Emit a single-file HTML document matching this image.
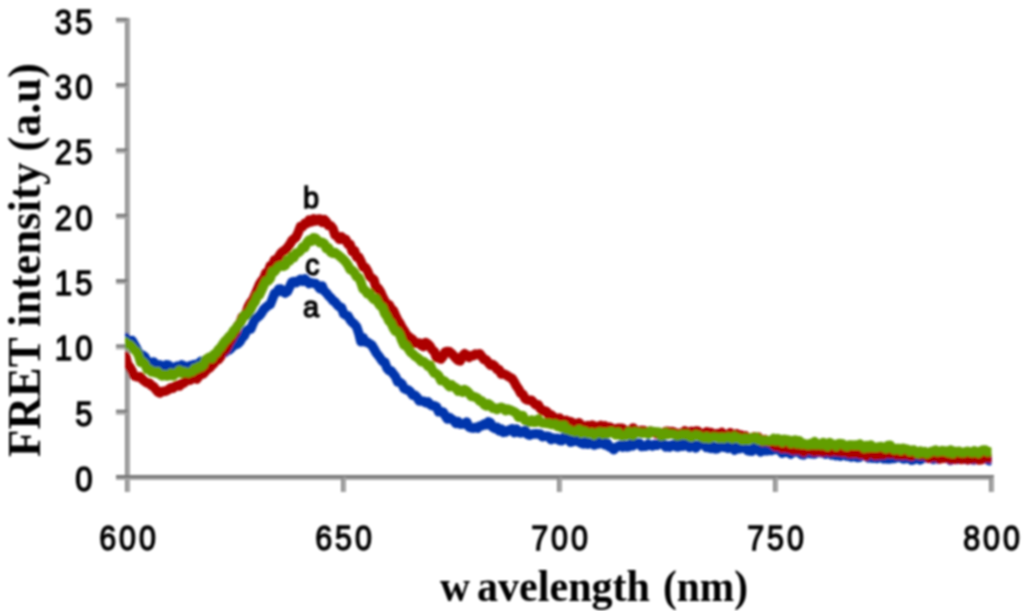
<!DOCTYPE html>
<html><head><meta charset="utf-8"><style>
html,body{margin:0;padding:0;background:#fff;width:1024px;height:616px;overflow:hidden}
svg{position:absolute;left:0;top:0}
.lab{font-family:"Liberation Sans",sans-serif;font-size:35px;fill:#000;stroke:#000;stroke-width:1.4px}
.tit{font-family:"Liberation Serif",serif;font-weight:bold;fill:#000}
.let{font-family:"Liberation Sans",sans-serif;font-size:29px;fill:#000;stroke:#000;stroke-width:1.3px}
</style></head><body>
<svg width="1024" height="616" viewBox="0 0 1024 616">
<defs><clipPath id="pc"><rect x="125" y="0" width="866.5" height="616"/></clipPath><filter id="bl" x="0" y="0" width="1" height="1"><feGaussianBlur stdDeviation="0.9"/></filter></defs>
<g filter="url(#bl)">
<rect x="125.0" y="18" width="2.5" height="474" fill="#8a8a8a"/>
<rect x="127.5" y="18" width="2.5" height="474" fill="#a2a2a2"/>
<rect x="116" y="475.0" width="878" height="3" fill="#787878"/>
<rect x="116" y="478.0" width="878" height="2" fill="#a8a8a8"/>
<rect x="116" y="409.7" width="11.5" height="3" fill="#787878"/>
<rect x="116" y="412.7" width="11.5" height="2" fill="#a8a8a8"/>
<rect x="116" y="344.4" width="11.5" height="3" fill="#787878"/>
<rect x="116" y="347.4" width="11.5" height="2" fill="#a8a8a8"/>
<rect x="116" y="279.1" width="11.5" height="3" fill="#787878"/>
<rect x="116" y="282.1" width="11.5" height="2" fill="#a8a8a8"/>
<rect x="116" y="213.8" width="11.5" height="3" fill="#787878"/>
<rect x="116" y="216.8" width="11.5" height="2" fill="#a8a8a8"/>
<rect x="116" y="148.4" width="11.5" height="3" fill="#787878"/>
<rect x="116" y="151.4" width="11.5" height="2" fill="#a8a8a8"/>
<rect x="116" y="83.1" width="11.5" height="3" fill="#787878"/>
<rect x="116" y="86.1" width="11.5" height="2" fill="#a8a8a8"/>
<rect x="116" y="17.8" width="11.5" height="3" fill="#787878"/>
<rect x="116" y="20.8" width="11.5" height="2" fill="#a8a8a8"/>
<rect x="341.0" y="477" width="2.5" height="15" fill="#8a8a8a"/>
<rect x="343.5" y="477" width="2.5" height="15" fill="#a2a2a2"/>
<rect x="557.0" y="477" width="2.5" height="15" fill="#8a8a8a"/>
<rect x="559.5" y="477" width="2.5" height="15" fill="#a2a2a2"/>
<rect x="773.0" y="477" width="2.5" height="15" fill="#8a8a8a"/>
<rect x="775.5" y="477" width="2.5" height="15" fill="#a2a2a2"/>
<rect x="989.0" y="477" width="2.5" height="15" fill="#8a8a8a"/>
<rect x="991.5" y="477" width="2.5" height="15" fill="#a2a2a2"/>
<text transform="translate(95.5,491.0) scale(0.89,1.0)" text-anchor="end" class="lab" letter-spacing="3.4">0</text>
<text transform="translate(95.5,425.7) scale(0.89,1.0)" text-anchor="end" class="lab" letter-spacing="3.4">5</text>
<text transform="translate(95.5,360.4) scale(0.89,1.0)" text-anchor="end" class="lab" letter-spacing="3.4">10</text>
<text transform="translate(95.5,295.1) scale(0.89,1.0)" text-anchor="end" class="lab" letter-spacing="3.4">15</text>
<text transform="translate(95.5,229.8) scale(0.89,1.0)" text-anchor="end" class="lab" letter-spacing="3.4">20</text>
<text transform="translate(95.5,164.4) scale(0.89,1.0)" text-anchor="end" class="lab" letter-spacing="3.4">25</text>
<text transform="translate(95.5,99.1) scale(0.89,1.0)" text-anchor="end" class="lab" letter-spacing="3.4">30</text>
<text transform="translate(95.5,33.8) scale(0.89,1.0)" text-anchor="end" class="lab" letter-spacing="3.4">35</text>
<text transform="translate(129.0,550.2) scale(0.87,1.0)" text-anchor="middle" class="lab" letter-spacing="3.4">600</text>
<text transform="translate(345.0,550.2) scale(0.87,1.0)" text-anchor="middle" class="lab" letter-spacing="3.4">650</text>
<text transform="translate(561.0,550.2) scale(0.87,1.0)" text-anchor="middle" class="lab" letter-spacing="3.4">700</text>
<text transform="translate(777.0,550.2) scale(0.87,1.0)" text-anchor="middle" class="lab" letter-spacing="3.4">750</text>
<text transform="translate(993.0,550.2) scale(0.87,1.0)" text-anchor="middle" class="lab" letter-spacing="3.4">800</text>
<polyline points="125.5,337.4 127.7,341.4 129.8,341.9 132.0,340.5 134.1,344.1 136.3,347.9 138.5,352.8 140.6,356.8 142.8,355.4 144.9,356.9 147.1,362.2 149.3,362.1 151.4,364.6 153.6,361.9 155.7,364.5 157.9,366.3 160.1,364.8 162.2,368.2 164.4,368.3 166.5,364.8 168.7,365.1 170.9,367.9 173.0,369.8 175.2,367.1 177.3,366.1 179.5,366.7 181.7,364.9 183.8,365.8 186.0,366.7 188.1,367.0 190.3,365.7 192.5,365.1 194.6,364.4 196.8,364.8 198.9,363.4 201.1,361.3 203.3,363.9 205.4,361.5 207.6,360.8 209.7,357.7 211.9,360.2 214.1,358.6 216.2,354.2 218.4,354.0 220.5,354.4 222.7,353.0 224.9,352.6 227.0,349.1 229.2,349.9 231.3,348.1 233.5,345.4 235.7,344.7 237.8,343.9 240.0,341.5 242.1,337.9 244.3,335.8 246.5,330.9 248.6,329.4 250.8,329.0 252.9,323.8 255.1,319.1 257.3,317.6 259.4,315.7 261.6,313.0 263.7,309.3 265.9,307.4 268.1,305.5 270.2,304.5 272.4,298.9 274.5,293.5 276.7,292.3 278.9,288.9 281.0,289.0 283.2,291.9 285.3,293.1 287.5,291.4 289.7,286.8 291.8,282.1 294.0,281.5 296.1,282.7 298.3,280.9 300.5,279.3 302.6,281.2 304.8,279.0 306.9,280.8 309.1,283.6 311.3,282.8 313.4,283.2 315.6,283.5 317.7,285.7 319.9,288.7 322.1,286.0 324.2,291.0 326.4,292.9 328.5,295.7 330.7,297.7 332.9,300.6 335.0,301.9 337.2,304.7 339.3,306.7 341.5,307.6 343.7,313.8 345.8,315.1 348.0,316.0 350.1,319.8 352.3,322.3 354.5,324.2 356.6,326.7 358.8,333.2 360.9,341.7 363.1,337.7 365.3,342.1 367.4,342.3 369.6,343.7 371.7,345.0 373.9,348.7 376.1,352.6 378.2,355.3 380.4,358.3 382.5,361.4 384.7,362.0 386.9,367.9 389.0,370.5 391.2,371.0 393.3,373.9 395.5,376.5 397.7,382.1 399.8,382.2 402.0,383.9 404.1,388.5 406.3,389.6 408.5,390.2 410.6,392.1 412.8,395.3 414.9,395.3 417.1,397.4 419.3,400.9 421.4,400.9 423.6,401.2 425.7,402.8 427.9,401.8 430.1,404.4 432.2,405.7 434.4,405.7 436.5,406.7 438.7,411.8 440.9,411.7 443.0,411.9 445.2,415.7 447.3,418.8 449.5,417.5 451.7,419.3 453.8,420.4 456.0,423.5 458.1,421.6 460.3,424.2 462.5,424.1 464.6,423.5 466.8,422.1 468.9,427.0 471.1,427.8 473.3,428.2 475.4,427.3 477.6,428.2 479.7,426.0 481.9,425.7 484.1,424.0 486.2,424.8 488.4,421.8 490.5,422.8 492.7,427.3 494.9,428.4 497.0,427.4 499.2,430.9 501.3,429.0 503.5,432.4 505.7,432.1 507.8,430.6 510.0,429.9 512.1,428.8 514.3,432.7 516.5,429.0 518.6,432.4 520.8,433.0 522.9,431.7 525.1,430.5 527.3,434.2 529.4,435.2 531.6,434.4 533.7,433.9 535.9,433.8 538.1,434.0 540.2,433.9 542.4,436.7 544.5,436.4 546.7,436.1 548.9,436.5 551.0,439.7 553.2,438.1 555.3,439.0 557.5,438.2 559.7,440.6 561.8,440.8 564.0,437.1 566.1,438.2 568.3,439.1 570.5,442.3 572.6,441.7 574.8,440.0 576.9,439.8 579.1,442.1 581.3,443.2 583.4,443.9 585.6,441.6 587.7,444.1 589.9,443.4 592.1,442.7 594.2,445.1 596.4,441.8 598.5,444.0 600.7,441.2 602.9,441.5 605.0,445.0 607.2,443.2 609.3,446.9 611.5,447.4 613.7,449.8 615.8,447.5 618.0,446.5 620.1,445.4 622.3,447.0 624.5,445.2 626.6,446.9 628.8,446.8 630.9,443.7 633.1,445.7 635.3,443.7 637.4,443.3 639.6,443.3 641.7,446.6 643.9,446.2 646.1,446.2 648.2,444.0 650.4,445.3 652.5,446.1 654.7,444.4 656.9,445.3 659.0,443.8 661.2,443.2 663.3,444.1 665.5,446.9 667.7,445.5 669.8,447.1 672.0,445.1 674.1,444.4 676.3,446.7 678.5,446.9 680.6,443.4 682.8,446.3 684.9,443.8 687.1,444.0 689.3,447.4 691.4,443.8 693.6,444.7 695.7,448.0 697.9,445.6 700.1,444.3 702.2,444.7 704.4,445.1 706.5,447.5 708.7,444.8 710.9,448.5 713.0,446.2 715.2,449.0 717.3,448.8 719.5,446.3 721.7,446.2 723.8,447.3 726.0,445.8 728.1,448.4 730.3,445.8 732.5,445.8 734.6,450.2 736.8,447.3 738.9,448.8 741.1,448.2 743.3,447.8 745.4,446.8 747.6,450.7 749.7,451.1 751.9,451.2 754.1,447.6 756.2,448.2 758.4,450.1 760.5,451.8 762.7,450.0 764.9,450.8 767.0,450.8 769.2,449.2 771.3,450.6 773.5,449.7 775.7,449.6 777.8,449.0 780.0,450.0 782.1,453.3 784.3,451.2 786.5,452.3 788.6,452.5 790.8,454.0 792.9,451.8 795.1,451.7 797.3,452.0 799.4,452.1 801.6,454.6 803.7,454.9 805.9,452.4 808.1,452.6 810.2,453.6 812.4,453.8 814.5,454.0 816.7,452.5 818.9,451.6 821.0,452.7 823.2,452.0 825.3,454.2 827.5,452.2 829.7,452.3 831.8,454.9 834.0,453.4 836.1,455.7 838.3,454.5 840.5,456.2 842.6,453.2 844.8,454.8 846.9,456.2 849.1,453.1 851.3,457.1 853.4,453.8 855.6,456.6 857.7,457.6 859.9,457.1 862.1,455.0 864.2,454.2 866.4,456.2 868.5,458.1 870.7,455.5 872.9,458.3 875.0,455.1 877.2,458.6 879.3,454.9 881.5,456.3 883.7,458.9 885.8,458.6 888.0,459.1 890.1,458.9 892.3,458.6 894.5,458.4 896.6,456.2 898.8,457.5 900.9,456.3 903.1,458.9 905.3,458.7 907.4,457.0 909.6,456.2 911.7,460.2 913.9,459.6 916.1,458.5 918.2,458.5 920.4,459.9 922.5,458.2 924.7,458.0 926.9,457.8 929.0,457.5 931.2,456.5 933.3,459.3 935.5,458.3 937.7,459.0 939.8,456.8 942.0,458.2 944.1,457.3 946.3,457.3 948.5,457.9 950.6,460.4 952.8,458.6 954.9,458.6 957.1,459.5 959.3,457.8 961.4,456.8 963.6,459.1 965.7,459.0 967.9,459.7 970.1,458.7 972.2,459.8 974.4,460.0 976.5,457.8 978.7,459.0 980.9,458.9 983.0,457.8 985.2,458.6 987.3,459.3 989.5,460.8" fill="none" stroke="#0036AC" stroke-width="9.5" stroke-linejoin="round" stroke-linecap="round" clip-path="url(#pc)"/>
<polyline points="125.5,356.0 127.7,364.6 129.8,366.9 132.0,370.9 134.1,375.8 136.3,376.6 138.5,377.1 140.6,376.7 142.8,379.7 144.9,381.4 147.1,383.0 149.3,382.9 151.4,385.5 153.6,386.7 155.7,389.4 157.9,391.9 160.1,393.0 162.2,391.5 164.4,391.3 166.5,390.8 168.7,389.4 170.9,387.8 173.0,388.2 175.2,386.2 177.3,385.1 179.5,386.0 181.7,383.6 183.8,383.1 186.0,381.0 188.1,379.5 190.3,380.1 192.5,377.9 194.6,378.3 196.8,379.1 198.9,376.4 201.1,372.6 203.3,373.8 205.4,371.4 207.6,369.2 209.7,368.0 211.9,365.3 214.1,363.2 216.2,359.1 218.4,359.6 220.5,356.9 222.7,350.6 224.9,350.5 227.0,347.2 229.2,342.4 231.3,339.0 233.5,334.9 235.7,332.1 237.8,325.6 240.0,322.8 242.1,317.0 244.3,315.6 246.5,311.9 248.6,305.9 250.8,302.3 252.9,299.7 255.1,294.8 257.3,289.7 259.4,284.5 261.6,280.9 263.7,278.6 265.9,272.7 268.1,272.4 270.2,265.9 272.4,265.3 274.5,260.0 276.7,260.1 278.9,256.3 281.0,253.1 283.2,251.2 285.3,249.9 287.5,247.6 289.7,244.5 291.8,240.8 294.0,238.7 296.1,237.1 298.3,232.3 300.5,226.5 302.6,226.7 304.8,223.3 306.9,223.5 309.1,220.0 311.3,222.0 313.4,218.8 315.6,221.1 317.7,219.2 319.9,219.0 322.1,222.4 324.2,219.6 326.4,221.9 328.5,225.6 330.7,225.8 332.9,228.5 335.0,234.9 337.2,236.3 339.3,239.3 341.5,236.8 343.7,239.2 345.8,239.5 348.0,244.2 350.1,244.4 352.3,251.5 354.5,250.6 356.6,256.9 358.8,257.1 360.9,261.3 363.1,267.0 365.3,267.4 367.4,270.7 369.6,276.2 371.7,278.1 373.9,279.8 376.1,288.0 378.2,288.3 380.4,291.8 382.5,296.5 384.7,300.7 386.9,304.3 389.0,304.6 391.2,308.7 393.3,310.4 395.5,315.5 397.7,320.1 399.8,323.2 402.0,327.5 404.1,330.5 406.3,334.3 408.5,336.4 410.6,338.1 412.8,339.7 414.9,343.2 417.1,342.8 419.3,342.9 421.4,345.4 423.6,346.5 425.7,342.5 427.9,343.9 430.1,346.3 432.2,350.0 434.4,351.6 436.5,357.7 438.7,356.1 440.9,359.1 443.0,356.5 445.2,351.9 447.3,351.5 449.5,351.8 451.7,353.7 453.8,355.8 456.0,358.5 458.1,360.3 460.3,360.9 462.5,356.0 464.6,353.7 466.8,355.1 468.9,357.4 471.1,355.7 473.3,355.7 475.4,354.0 477.6,354.6 479.7,353.8 481.9,356.6 484.1,359.6 486.2,359.9 488.4,362.8 490.5,365.3 492.7,364.6 494.9,366.3 497.0,369.5 499.2,369.8 501.3,374.1 503.5,373.7 505.7,374.7 507.8,376.2 510.0,377.5 512.1,378.5 514.3,382.1 516.5,386.2 518.6,389.0 520.8,393.3 522.9,394.3 525.1,398.7 527.3,400.1 529.4,400.2 531.6,400.3 533.7,402.7 535.9,405.0 538.1,404.7 540.2,408.4 542.4,410.9 544.5,410.8 546.7,411.5 548.9,415.7 551.0,414.9 553.2,416.5 555.3,419.1 557.5,418.6 559.7,418.1 561.8,422.3 564.0,420.7 566.1,420.3 568.3,423.9 570.5,421.6 572.6,422.7 574.8,425.3 576.9,424.8 579.1,422.7 581.3,425.4 583.4,426.0 585.6,426.9 587.7,425.7 589.9,427.4 592.1,425.1 594.2,426.1 596.4,426.4 598.5,429.0 600.7,425.3 602.9,428.4 605.0,426.0 607.2,427.7 609.3,427.0 611.5,427.9 613.7,429.9 615.8,429.0 618.0,428.3 620.1,428.3 622.3,428.2 624.5,431.5 626.6,430.6 628.8,432.0 630.9,430.8 633.1,427.9 635.3,430.7 637.4,431.2 639.6,431.0 641.7,430.4 643.9,430.4 646.1,431.5 648.2,433.3 650.4,431.0 652.5,432.2 654.7,432.0 656.9,434.2 659.0,433.6 661.2,434.2 663.3,433.8 665.5,431.5 667.7,431.2 669.8,432.4 672.0,431.4 674.1,432.2 676.3,433.3 678.5,434.4 680.6,433.0 682.8,434.1 684.9,430.9 687.1,432.1 689.3,435.0 691.4,431.3 693.6,432.5 695.7,431.0 697.9,431.1 700.1,434.7 702.2,435.3 704.4,433.9 706.5,431.7 708.7,432.5 710.9,432.4 713.0,434.4 715.2,434.6 717.3,433.6 719.5,434.1 721.7,432.4 723.8,434.4 726.0,436.3 728.1,435.5 730.3,432.7 732.5,434.7 734.6,435.7 736.8,433.8 738.9,436.7 741.1,435.1 743.3,436.7 745.4,435.9 747.6,439.0 749.7,438.6 751.9,438.2 754.1,436.8 756.2,438.6 758.4,437.3 760.5,440.3 762.7,442.1 764.9,439.6 767.0,441.7 769.2,442.3 771.3,442.7 773.5,444.8 775.7,446.5 777.8,446.2 780.0,445.9 782.1,448.5 784.3,446.1 786.5,448.4 788.6,448.4 790.8,449.3 792.9,450.1 795.1,447.8 797.3,450.0 799.4,449.5 801.6,450.7 803.7,452.1 805.9,450.6 808.1,447.9 810.2,449.8 812.4,450.9 814.5,451.7 816.7,450.7 818.9,451.4 821.0,447.9 823.2,452.0 825.3,451.0 827.5,450.5 829.7,451.8 831.8,451.7 834.0,448.2 836.1,451.6 838.3,451.7 840.5,449.6 842.6,452.3 844.8,451.9 846.9,450.6 849.1,453.6 851.3,451.0 853.4,453.4 855.6,453.0 857.7,452.6 859.9,454.3 862.1,453.9 864.2,452.7 866.4,456.1 868.5,452.1 870.7,451.8 872.9,453.9 875.0,455.5 877.2,454.7 879.3,455.1 881.5,453.9 883.7,454.8 885.8,453.3 888.0,453.0 890.1,454.0 892.3,451.9 894.5,452.2 896.6,455.1 898.8,452.6 900.9,455.1 903.1,455.3 905.3,453.6 907.4,455.0 909.6,455.7 911.7,456.3 913.9,453.3 916.1,453.6 918.2,454.8 920.4,455.4 922.5,454.9 924.7,453.8 926.9,456.4 929.0,458.5 931.2,456.0 933.3,457.0 935.5,456.5 937.7,457.0 939.8,459.1 942.0,456.7 944.1,458.3 946.3,457.6 948.5,457.9 950.6,459.6 952.8,456.0 954.9,459.4 957.1,457.1 959.3,458.7 961.4,459.4 963.6,458.8 965.7,457.8 967.9,459.8 970.1,456.6 972.2,459.0 974.4,458.0 976.5,458.6 978.7,460.0 980.9,459.8 983.0,459.1 985.2,457.7 987.3,457.3 989.5,458.3" fill="none" stroke="#AC0000" stroke-width="9.5" stroke-linejoin="round" stroke-linecap="round" clip-path="url(#pc)"/>
<polyline points="125.5,341.8 127.7,344.3 129.8,344.7 132.0,346.9 134.1,349.7 136.3,351.2 138.5,355.0 140.6,362.1 142.8,361.7 144.9,363.8 147.1,369.3 149.3,369.1 151.4,372.0 153.6,371.3 155.7,372.9 157.9,371.6 160.1,374.6 162.2,375.9 164.4,374.6 166.5,375.9 168.7,375.8 170.9,373.1 173.0,375.8 175.2,374.2 177.3,372.1 179.5,370.1 181.7,373.4 183.8,371.5 186.0,372.4 188.1,372.9 190.3,371.8 192.5,371.6 194.6,368.2 196.8,368.9 198.9,366.3 201.1,367.0 203.3,365.1 205.4,359.9 207.6,358.3 209.7,357.0 211.9,358.4 214.1,354.2 216.2,353.1 218.4,349.6 220.5,347.7 222.7,344.3 224.9,341.2 227.0,339.4 229.2,336.4 231.3,334.7 233.5,330.7 235.7,328.7 237.8,325.5 240.0,323.6 242.1,319.7 244.3,315.0 246.5,315.4 248.6,312.6 250.8,309.2 252.9,304.5 255.1,301.7 257.3,295.9 259.4,295.0 261.6,290.3 263.7,285.5 265.9,281.0 268.1,281.0 270.2,278.5 272.4,271.6 274.5,271.7 276.7,268.7 278.9,266.2 281.0,265.5 283.2,266.3 285.3,265.4 287.5,260.0 289.7,260.9 291.8,256.7 294.0,257.4 296.1,253.0 298.3,252.8 300.5,250.8 302.6,247.0 304.8,247.5 306.9,242.8 309.1,240.1 311.3,241.3 313.4,237.7 315.6,238.1 317.7,240.4 319.9,242.8 322.1,242.3 324.2,243.4 326.4,248.7 328.5,247.8 330.7,252.2 332.9,253.3 335.0,252.5 337.2,254.2 339.3,255.9 341.5,257.8 343.7,259.8 345.8,262.1 348.0,265.2 350.1,269.5 352.3,270.4 354.5,272.8 356.6,276.7 358.8,277.6 360.9,282.2 363.1,289.1 365.3,290.3 367.4,293.7 369.6,293.2 371.7,296.8 373.9,299.3 376.1,298.6 378.2,302.9 380.4,306.0 382.5,307.2 384.7,313.4 386.9,316.4 389.0,321.1 391.2,323.1 393.3,327.9 395.5,331.3 397.7,331.4 399.8,334.8 402.0,340.8 404.1,345.4 406.3,345.4 408.5,349.0 410.6,352.3 412.8,353.8 414.9,356.0 417.1,357.4 419.3,359.2 421.4,361.8 423.6,361.6 425.7,363.2 427.9,366.1 430.1,365.2 432.2,370.0 434.4,373.2 436.5,373.7 438.7,375.7 440.9,380.6 443.0,380.4 445.2,381.7 447.3,384.0 449.5,386.5 451.7,385.0 453.8,387.0 456.0,387.9 458.1,391.1 460.3,390.0 462.5,392.3 464.6,389.7 466.8,390.9 468.9,392.9 471.1,396.2 473.3,396.5 475.4,397.3 477.6,398.1 479.7,401.2 481.9,400.9 484.1,404.6 486.2,405.8 488.4,403.9 490.5,405.2 492.7,408.2 494.9,408.1 497.0,409.5 499.2,408.0 501.3,407.3 503.5,408.3 505.7,410.8 507.8,409.1 510.0,410.0 512.1,410.9 514.3,411.8 516.5,413.4 518.6,417.3 520.8,415.5 522.9,415.8 525.1,420.6 527.3,421.1 529.4,422.2 531.6,420.0 533.7,422.3 535.9,422.2 538.1,419.1 540.2,421.6 542.4,422.9 544.5,423.1 546.7,423.4 548.9,423.3 551.0,424.5 553.2,424.3 555.3,423.9 557.5,426.5 559.7,425.5 561.8,428.1 564.0,425.2 566.1,429.5 568.3,429.2 570.5,430.8 572.6,431.2 574.8,431.9 576.9,431.2 579.1,429.4 581.3,433.3 583.4,431.1 585.6,431.8 587.7,433.6 589.9,433.1 592.1,432.7 594.2,435.2 596.4,433.7 598.5,432.4 600.7,431.9 602.9,434.4 605.0,432.6 607.2,433.8 609.3,432.0 611.5,431.6 613.7,433.3 615.8,434.8 618.0,432.2 620.1,435.2 622.3,435.9 624.5,435.3 626.6,435.4 628.8,431.8 630.9,434.6 633.1,435.6 635.3,431.9 637.4,432.7 639.6,432.6 641.7,433.5 643.9,432.9 646.1,433.0 648.2,434.3 650.4,431.1 652.5,431.5 654.7,431.9 656.9,432.1 659.0,432.0 661.2,436.2 663.3,435.8 665.5,432.6 667.7,434.6 669.8,433.9 672.0,434.1 674.1,434.4 676.3,435.9 678.5,435.8 680.6,434.9 682.8,434.3 684.9,435.1 687.1,434.4 689.3,436.4 691.4,437.3 693.6,436.0 695.7,434.8 697.9,435.4 700.1,436.4 702.2,437.5 704.4,438.4 706.5,436.7 708.7,438.6 710.9,437.9 713.0,437.1 715.2,436.9 717.3,437.6 719.5,438.5 721.7,437.4 723.8,438.6 726.0,437.7 728.1,436.8 730.3,438.2 732.5,438.9 734.6,436.3 736.8,437.9 738.9,438.0 741.1,440.0 743.3,440.4 745.4,438.0 747.6,440.3 749.7,439.9 751.9,437.7 754.1,438.6 756.2,437.2 758.4,440.3 760.5,439.8 762.7,441.0 764.9,440.8 767.0,440.4 769.2,440.9 771.3,440.4 773.5,438.6 775.7,441.0 777.8,438.6 780.0,439.4 782.1,442.4 784.3,439.3 786.5,439.7 788.6,439.9 790.8,443.5 792.9,440.6 795.1,440.0 797.3,443.8 799.4,440.8 801.6,444.1 803.7,443.5 805.9,444.4 808.1,445.1 810.2,443.6 812.4,444.7 814.5,441.6 816.7,444.9 818.9,444.0 821.0,445.0 823.2,442.4 825.3,445.4 827.5,446.3 829.7,442.6 831.8,443.8 834.0,445.0 836.1,446.3 838.3,443.8 840.5,443.6 842.6,444.0 844.8,445.7 846.9,446.5 849.1,445.0 851.3,445.0 853.4,445.2 855.6,445.1 857.7,445.5 859.9,444.2 862.1,446.1 864.2,448.2 866.4,445.8 868.5,447.4 870.7,444.9 872.9,447.3 875.0,447.6 877.2,447.3 879.3,446.7 881.5,446.6 883.7,447.4 885.8,448.6 888.0,445.4 890.1,445.2 892.3,448.6 894.5,449.7 896.6,448.4 898.8,448.5 900.9,450.2 903.1,448.2 905.3,449.0 907.4,449.2 909.6,451.3 911.7,450.3 913.9,450.1 916.1,452.3 918.2,453.6 920.4,450.9 922.5,452.8 924.7,451.7 926.9,453.8 929.0,452.8 931.2,451.4 933.3,451.1 935.5,450.1 937.7,452.0 939.8,451.5 942.0,450.5 944.1,451.2 946.3,450.9 948.5,452.8 950.6,449.9 952.8,453.6 954.9,451.3 957.1,451.8 959.3,451.2 961.4,452.8 963.6,452.7 965.7,451.6 967.9,451.2 970.1,452.2 972.2,452.8 974.4,450.8 976.5,452.2 978.7,453.2 980.9,451.0 983.0,449.9 985.2,449.9 987.3,452.0 989.5,451.8" fill="none" stroke="#629E00" stroke-width="9.5" stroke-linejoin="round" stroke-linecap="round" clip-path="url(#pc)"/>
<text class="tit" font-size="44" x="440" y="601" textLength="30" lengthAdjust="spacingAndGlyphs">w</text>
<text class="tit" font-size="44" x="477" y="601" textLength="173" lengthAdjust="spacingAndGlyphs">avelength</text>
<text class="tit" font-size="44" x="663" y="601" textLength="85" lengthAdjust="spacingAndGlyphs">(nm)</text>
<text class="tit" font-size="46" transform="translate(40,457) rotate(-90)" textLength="394" lengthAdjust="spacingAndGlyphs">FRET intensity (a.u)</text>
<text class="let" x="303" y="208">b</text>
<text class="let" x="305" y="275">c</text>
<text class="let" x="303" y="317">a</text>
</g>
</svg>
</body></html>
